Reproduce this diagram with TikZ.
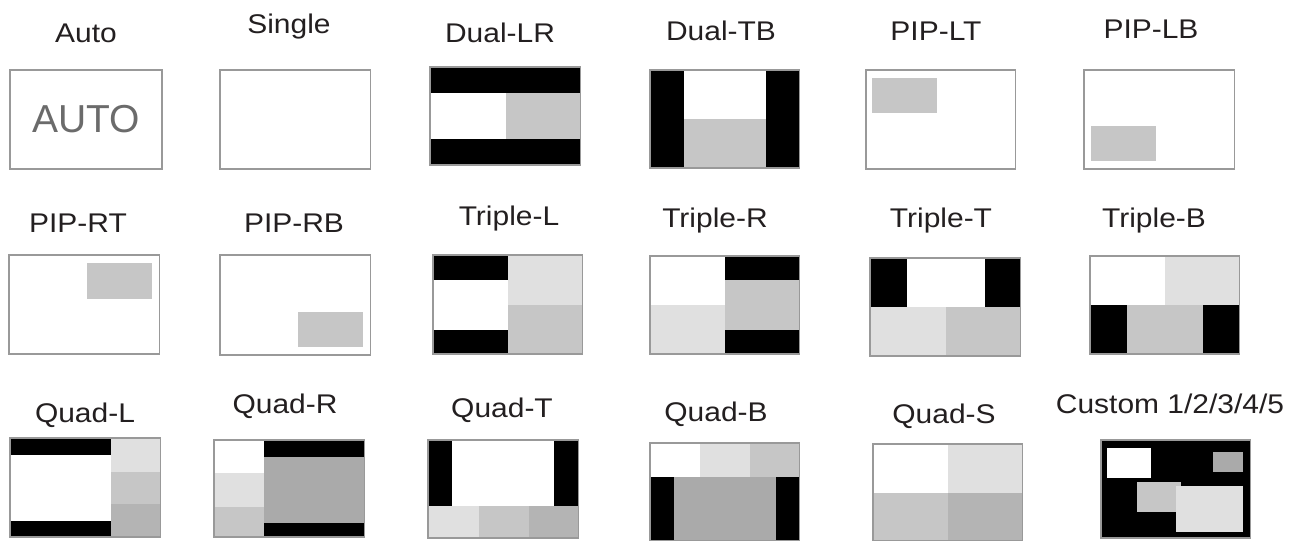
\documentclass[tikz,border=0pt]{standalone}
\usepackage{fontspec}
\setmainfont{Liberation Sans}
\usepackage{tikz}
\definecolor{ltgray}{HTML}{E0E0E0}
\definecolor{mdgray}{HTML}{C6C6C6}
\definecolor{dkgray}{HTML}{B4B4B4}
\definecolor{dkrgray}{HTML}{AAAAAA}
\definecolor{framegray}{HTML}{999999}
\definecolor{labelgray}{HTML}{231F20}
\newcommand{\lbltext}[1]{\scalebox{1.11}[1]{#1}}
\tikzset{
  panel/.style={xscale=1.245},
  frame/.style={draw=framegray, line width=1.4pt},
  blk/.style={fill=black},
  lt/.style={fill=ltgray},
  md/.style={fill=mdgray},
  dk/.style={fill=dkgray},
  dkr/.style={fill=dkrgray},
  lbl/.style={font=\fontsize{27}{32}\selectfont, text=labelgray, anchor=base, inner sep=0pt}
}
\begin{document}
\begin{tikzpicture}[x=1pt,y=-1pt]
\useasboundingbox[fill=white] (0,0) rectangle (1302,541);

% labels
\node[lbl] (lauto) at (86,42) {\lbltext{Auto}};
\node[lbl] (lsingle) at (289,33) {\lbltext{Single}};
\node[lbl] (ldualLR) at (500,42) {\lbltext{Dual-LR}};
\node[lbl] (ldualTB) at (721,40) {\lbltext{Dual-TB}};
\node[lbl] (lpipLT) at (936,40) {\lbltext{PIP-LT}};
\node[lbl] (lpipLB) at (1151,38) {\lbltext{PIP-LB}};
\node[lbl] (lpipRT) at (78,232) {\lbltext{PIP-RT}};
\node[lbl] (lpipRB) at (294,232) {\lbltext{PIP-RB}};
\node[lbl] (ltripL) at (509,225) {\lbltext{Triple-L}};
\node[lbl] (ltripR) at (715,227) {\lbltext{Triple-R}};
\node[lbl] (ltripT) at (941,227) {\lbltext{Triple-T}};
\node[lbl] (ltripB) at (1154,227) {\lbltext{Triple-B}};
\node[lbl] (lquadL) at (85,422) {\lbltext{Quad-L}};
\node[lbl] (lquadR) at (285,413) {\lbltext{Quad-R}};
\node[lbl] (lquadT) at (502,417) {\lbltext{Quad-T}};
\node[lbl] (lquadB) at (716,421) {\lbltext{Quad-B}};
\node[lbl] (lquadS) at (944,423) {\lbltext{Quad-S}};
\node[lbl] (lcustom) at (1170,413) {\lbltext{Custom 1/2/3/4/5}};

% row 1
\begin{scope}[shift={(10,70)}, panel] % Auto
  \draw[frame] (0,0) rectangle (122,99);
  \node[font=\fontsize{39}{44}\selectfont, text=black!58] (autotxt) at (61,49) {AUTO};
\end{scope}
\begin{scope}[shift={(220,70)}, panel] % Single
  \draw[frame] (0,0) rectangle (121,99);
\end{scope}
\begin{scope}[shift={(430,67)}, panel] % Dual-LR
  \fill[blk] (0,0) rectangle (121,26);
  \fill[md] (61,26) rectangle (121,72);
  \fill[blk] (0,72) rectangle (121,98);
  \draw[frame] (0,0) rectangle (121,98);
\end{scope}
\begin{scope}[shift={(650,70)}, panel] % Dual-TB
  \fill[blk] (0,0) rectangle (27,98);
  \fill[md] (27,49) rectangle (93,98);
  \fill[blk] (93,0) rectangle (120,98);
  \draw[frame] (0,0) rectangle (120,98);
\end{scope}
\begin{scope}[shift={(866,70)}, panel] % PIP-LT
  \fill[md] (5,8) rectangle (57,43);
  \draw[frame] (0,0) rectangle (120,99);
\end{scope}
\begin{scope}[shift={(1084,70)}, panel] % PIP-LB
  \fill[md] (6,56) rectangle (58,91);
  \draw[frame] (0,0) rectangle (121,99);
\end{scope}

% row 2
\begin{scope}[shift={(9,255)}, panel] % PIP-RT
  \fill[md] (63,8) rectangle (115,44);
  \draw[frame] (0,0) rectangle (121,99);
\end{scope}
\begin{scope}[shift={(220,255)}, panel] % PIP-RB
  \fill[md] (63,57) rectangle (115,92);
  \draw[frame] (0,0) rectangle (121,100);
\end{scope}
\begin{scope}[shift={(433,255)}, panel] % Triple-L
  \fill[blk] (0,0) rectangle (60,25);
  \fill[blk] (0,75) rectangle (60,99);
  \fill[lt] (60,0) rectangle (120,50);
  \fill[md] (60,50) rectangle (120,99);
  \draw[frame] (0,0) rectangle (120,99);
\end{scope}
\begin{scope}[shift={(650,256)}, panel] % Triple-R
  \fill[lt] (0,49) rectangle (60,98);
  \fill[blk] (60,0) rectangle (120,24);
  \fill[md] (60,24) rectangle (120,74);
  \fill[blk] (60,74) rectangle (120,98);
  \draw[frame] (0,0) rectangle (120,98);
\end{scope}
\begin{scope}[shift={(870,258)}, panel] % Triple-T
  \fill[blk] (0,0) rectangle (30,49);
  \fill[blk] (92,0) rectangle (121,49);
  \fill[lt] (0,49) rectangle (61,98);
  \fill[md] (61,49) rectangle (121,98);
  \draw[frame] (0,0) rectangle (121,98);
\end{scope}
\begin{scope}[shift={(1090,256)}, panel] % Triple-B
  \fill[lt] (60,0) rectangle (120,49);
  \fill[blk] (0,49) rectangle (30,98);
  \fill[md] (30,49) rectangle (91,98);
  \fill[blk] (91,49) rectangle (120,98);
  \draw[frame] (0,0) rectangle (120,98);
\end{scope}

% row 3
\begin{scope}[shift={(10,438)}, panel] % Quad-L
  \fill[blk] (0,0) rectangle (81,17);
  \fill[blk] (0,83) rectangle (81,99);
  \fill[lt] (81,0) rectangle (121,34);
  \fill[md] (81,34) rectangle (121,66);
  \fill[dk] (81,66) rectangle (121,99);
  \draw[frame] (0,0) rectangle (121,99);
\end{scope}
\begin{scope}[shift={(214,440)}, panel] % Quad-R
  \fill[lt] (0,33) rectangle (40,67);
  \fill[md] (0,67) rectangle (40,97);
  \fill[blk] (40,0) rectangle (121,17);
  \fill[dkr] (40,17) rectangle (121,83);
  \fill[blk] (40,83) rectangle (121,97);
  \draw[frame] (0,0) rectangle (121,97);
\end{scope}
\begin{scope}[shift={(428,440)}, panel] % Quad-T
  \fill[blk] (0,0) rectangle (19,66);
  \fill[blk] (101,0) rectangle (121,66);
  \fill[lt] (0,66) rectangle (41,98);
  \fill[md] (41,66) rectangle (81,98);
  \fill[dk] (81,66) rectangle (121,98);
  \draw[frame] (0,0) rectangle (121,98);
\end{scope}
\begin{scope}[shift={(650,443)}, panel] % Quad-B
  \fill[lt] (40,0) rectangle (80,34);
  \fill[md] (80,0) rectangle (120,34);
  \fill[blk] (0,34) rectangle (19,98);
  \fill[dkr] (19,34) rectangle (101,98);
  \fill[blk] (101,34) rectangle (120,98);
  \draw[frame] (0,0) rectangle (120,98);
\end{scope}
\begin{scope}[shift={(873,444)}, panel] % Quad-S
  \fill[lt] (60,0) rectangle (120,49);
  \fill[md] (0,49) rectangle (60,97);
  \fill[dk] (60,49) rectangle (120,97);
  \draw[frame] (0,0) rectangle (120,97);
\end{scope}
\begin{scope}[shift={(1101,440)}, panel] % Custom
  \fill[blk] (0,0) rectangle (120,98);
  \fill[white] (5,8) rectangle (40,38);
  \fill[dkr] (90,12) rectangle (114,32);
  \fill[md] (29,42) rectangle (64,72);
  \fill[lt] (60,46) rectangle (114,92);
  \draw[frame] (0,0) rectangle (120,98);
\end{scope}
\end{tikzpicture}
\end{document}
